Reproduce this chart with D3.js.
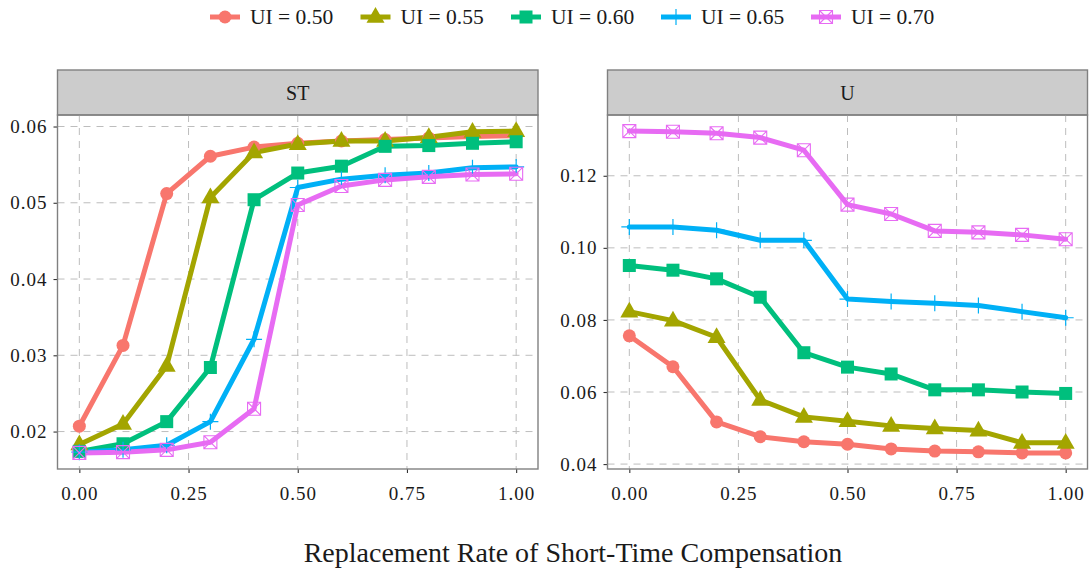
<!DOCTYPE html>
<html>
<head>
<meta charset="utf-8">
<script src="https://cdn.jsdelivr.net/npm/d3@7"></script>
<style>
  body { margin: 0; background: #fff; }
  svg text { font-family: "Liberation Serif", "DejaVu Serif", serif !important; fill: #1a1a1a; }
</style>
</head>
<body>
<div id="chart"></div>
<script>
// x values shared by every series
var rates = [0, 0.1, 0.2, 0.3, 0.4, 0.5, 0.6, 0.7, 0.8, 0.9, 1.0];
var uiLevels = ["UI = 0.50", "UI = 0.55", "UI = 0.60", "UI = 0.65", "UI = 0.70"];
var panels = ["ST", "U"];
var xTicks = [0, 0.25, 0.5, 0.75, 1.0];
var stTicks = [0.02, 0.03, 0.04, 0.05, 0.06];
var uTicks = [0.04, 0.06, 0.08, 0.10, 0.12];

// ST panel
var st050 = [0.0207, 0.0313, 0.0512, 0.0561, 0.0573, 0.0578, 0.0581, 0.0583, 0.0585, 0.0587, 0.0588];
var st055 = [0.0183, 0.0210, 0.0286, 0.0507, 0.0566, 0.0577, 0.0581, 0.0581, 0.0586, 0.0593, 0.0594];
var st060 = [0.0174, 0.0184, 0.0213, 0.0284, 0.0504, 0.0539, 0.0548, 0.0574, 0.0575, 0.0578, 0.0580];
var st065 = [0.0173, 0.0176, 0.0182, 0.0213, 0.0321, 0.0520, 0.0531, 0.0536, 0.0539, 0.0546, 0.0547];
var st070 = [0.0172, 0.0173, 0.0176, 0.0186, 0.0230, 0.0497, 0.0522, 0.0530, 0.0534, 0.0537, 0.0538];

// U panel
var u050 = [0.0756, 0.0670, 0.0517, 0.0476, 0.0462, 0.0455, 0.0442, 0.0436, 0.0434, 0.0431, 0.0431];
var u055 = [0.0823, 0.0798, 0.0752, 0.0578, 0.0531, 0.0519, 0.0506, 0.0499, 0.0493, 0.0459, 0.0459];
var u060 = [0.0951, 0.0938, 0.0914, 0.0863, 0.0709, 0.0669, 0.0650, 0.0606, 0.0606, 0.0600, 0.0596];
var u065 = [0.1058, 0.1058, 0.1049, 0.1021, 0.1021, 0.0858, 0.0851, 0.0846, 0.0840, 0.0823, 0.0806];
var u070 = [0.1324, 0.1322, 0.1318, 0.1306, 0.1271, 0.1120, 0.1094, 0.1047, 0.1043, 0.1036, 0.1024];

var colors = ["#F8766D", "#A3A500", "#00BF7D", "#00B0F6", "#E76BF3"];
var shapes = ["circle", "triangle", "square", "plus", "boxx"];

var panelData = {
  ST: [st050, st055, st060, st065, st070],
  U: [u050, u055, u060, u065, u070]
};
var panelTicks = { ST: stTicks, U: uTicks };

var width = 1090, height = 571;
var stripTop = 70, plotTop = 115, plotBottom = 469;
var panelX = { ST: [57.5, 538], U: [607.5, 1087.5] };
var serif = "'Liberation Serif', 'DejaVu Serif', serif";

var svg = d3.select("#chart").append("svg")
  .attr("width", width)
  .attr("height", height);

function drawMarker(g, shape, color, x, y) {
  if (shape == "circle") {
    g.append("circle").attr("cx", x).attr("cy", y).attr("r", 6.5).attr("fill", color);
  } else if (shape == "triangle") {
    var s = 9;
    g.append("path")
      .attr("d", "M" + x + "," + (y - s * 1.1) + "L" + (x + s) + "," + (y + s * 0.65) + "L" + (x - s) + "," + (y + s * 0.65) + "Z")
      .attr("fill", color);
  } else if (shape == "square") {
    g.append("rect").attr("x", x - 6.5).attr("y", y - 6.5).attr("width", 13).attr("height", 13).attr("fill", color);
  } else if (shape == "plus") {
    g.append("path")
      .attr("d", "M" + (x - 8) + "," + y + "H" + (x + 8) + "M" + x + "," + (y - 8) + "V" + (y + 8))
      .attr("stroke", color).attr("stroke-width", 1.2).attr("fill", "none");
  } else {
    g.append("path")
      .attr("d", "M" + (x - 6.5) + "," + (y - 6.5) + "h13v13h-13Z" +
        "M" + (x - 6.5) + "," + (y - 6.5) + "L" + (x + 6.5) + "," + (y + 6.5) +
        "M" + (x + 6.5) + "," + (y - 6.5) + "L" + (x - 6.5) + "," + (y + 6.5))
      .attr("stroke", color).attr("stroke-width", 1.1).attr("fill", "none");
  }
}

panels.forEach(function(name) {
  var series = panelData[name];
  var all = d3.merge(series);
  var lo = d3.min(all), hi = d3.max(all), pad = (hi - lo) * 0.05;

  var x = d3.scaleLinear().domain([-0.05, 1.05]).range(panelX[name]);
  var y = d3.scaleLinear().domain([lo - pad, hi + pad]).range([plotBottom, plotTop]);

  var x0 = panelX[name][0], x1 = panelX[name][1];
  var g = svg.append("g");

  // strip
  g.append("rect")
    .attr("x", x0).attr("y", stripTop)
    .attr("width", x1 - x0).attr("height", plotTop - stripTop)
    .attr("fill", "#cccccc").attr("stroke", "#808080").attr("stroke-width", 1.4);
  g.append("text")
    .attr("x", (x0 + x1) / 2).attr("y", (stripTop + plotTop) / 2 + 7)
    .attr("text-anchor", "middle")
    .style("font-family", serif).style("font-size", "20px")
    .text(name);

  // grid
  g.selectAll(".vg").data(xTicks).enter().append("line")
    .attr("x1", function(d) { return x(d); }).attr("x2", function(d) { return x(d); })
    .attr("y1", plotTop).attr("y2", plotBottom)
    .attr("stroke", "#bdbdbd").attr("stroke-width", 1).attr("stroke-dasharray", "7,6");
  g.selectAll(".hg").data(panelTicks[name]).enter().append("line")
    .attr("x1", x0).attr("x2", x1)
    .attr("y1", function(d) { return y(d); }).attr("y2", function(d) { return y(d); })
    .attr("stroke", "#bdbdbd").attr("stroke-width", 1).attr("stroke-dasharray", "7,6");

  // axes
  var xAxis = d3.axisBottom(x).tickValues(xTicks).tickSize(4).tickPadding(14)
    .tickFormat(d3.format(".2f"));
  var yAxis = d3.axisLeft(y).tickValues(panelTicks[name]).tickSize(4).tickPadding(6)
    .tickFormat(d3.format(".2f"));

  var gx = g.append("g").attr("transform", "translate(0," + plotBottom + ")").call(xAxis);
  var gy = g.append("g").attr("transform", "translate(" + x0 + ",0)").call(yAxis);
  [gx, gy].forEach(function(a) {
    a.attr("font-family", null).attr("font-size", null);
    a.select(".domain").remove();
    a.selectAll(".tick line").attr("stroke", "#333").attr("stroke-width", 1.1);
    a.selectAll(".tick text")
      .style("font-family", serif).style("font-size", "19px").style("letter-spacing", "1px")
      .attr("fill", "#1a1a1a");
  });
  if (name == "ST") {
    gy.selectAll(".tick text").text(function(d) { return d3.format(".2f")(d).replace(/0$/, ""); });
  }

  // lines, then points
  var line = d3.line()
    .x(function(d, i) { return x(rates[i]); })
    .y(function(d) { return y(d); });

  series.forEach(function(s, k) {
    g.append("path").datum(s)
      .attr("d", line)
      .attr("fill", "none")
      .attr("stroke", colors[k])
      .attr("stroke-width", 5)
      .attr("stroke-linejoin", "round")
      .attr("stroke-linecap", "round");
  });
  series.forEach(function(s, k) {
    s.forEach(function(v, i) {
      drawMarker(g, shapes[k], colors[k], x(rates[i]), y(v));
    });
  });

  // panel border
  g.append("rect")
    .attr("x", x0).attr("y", plotTop)
    .attr("width", x1 - x0).attr("height", plotBottom - plotTop)
    .attr("fill", "none").attr("stroke", "#808080").attr("stroke-width", 1.4);
});

// legend
var legendX = [225, 375.5, 526, 676, 826];
var legend = svg.append("g");
uiLevels.forEach(function(label, k) {
  var cx = legendX[k], cy = 17;
  legend.append("line")
    .attr("x1", cx - 15).attr("x2", cx + 15)
    .attr("y1", cy).attr("y2", cy)
    .attr("stroke", colors[k]).attr("stroke-width", 5);
  drawMarker(legend, shapes[k], colors[k], cx, cy);
  legend.append("text")
    .attr("x", cx + 25).attr("y", cy + 7)
    .style("font-family", serif).style("font-size", "21.5px")
    .text(label);
});

// axis title
svg.append("text")
  .attr("x", 573).attr("y", 562)
  .attr("text-anchor", "middle")
  .style("font-family", serif).style("font-size", "28px")
  .text("Replacement Rate of Short-Time Compensation");
</script>
</body>
</html>
